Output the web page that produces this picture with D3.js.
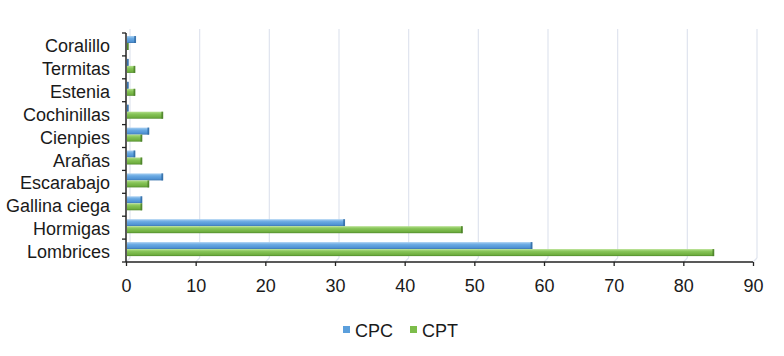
<!DOCTYPE html>
<html>
<head>
<meta charset="utf-8">
<script src="https://cdn.jsdelivr.net/npm/d3@7"></script>
<style>
  html, body { margin: 0; padding: 0; background: #fff; }
  svg { display: block; }
  text { font-family: "Liberation Sans", Arial, sans-serif; fill: #1a1a1a; }
</style>
</head>
<body>
<svg id="chart" width="784" height="356"></svg>
<script>
const categories = ["Coralillo", "Termitas", "Estenia", "Cochinillas", "Cienpies", "Arañas", "Escarabajo", "Gallina ciega", "Hormigas", "Lombrices"];
const seriesNames = ["CPC", "CPT"];
const cpcValues = [1.4, 0.3, 0.3, 0.3, 3.3, 1.3, 5.3, 2.3, 31.4, 58.3];
const cptValues = [0.3, 1.3, 1.3, 5.3, 2.3, 2.3, 3.3, 2.3, 48.3, 84.4];
const xTicks = [0, 10, 20, 30, 40, 50, 60, 70, 80, 90];

(function () {
const svg = d3.select("#chart");
const pLeft = 126, pRight = 753, pTop = 33, pBottom = 262;
const depth = 4;
const fontSize = 18;

const x = d3.scaleLinear().domain([0, 90]).range([pLeft, pRight]);
const y = d3.scaleBand().domain(categories).range([pTop, pBottom]).paddingInner(0).paddingOuter(0);

const defs = svg.append("defs");
function grad(id, stops) {
  const g = defs.append("linearGradient").attr("id", id).attr("x1", 0).attr("y1", 0).attr("x2", 0).attr("y2", 1);
  stops.forEach(s => g.append("stop").attr("offset", s[0]).attr("stop-color", s[1]));
}
grad("gBlue", [[0, "#a9d0f2"], [0.35, "#6aaae3"], [0.8, "#4f92d3"], [1, "#3b74ad"]]);
grad("gGreen", [[0, "#b4df8c"], [0.35, "#86c457"], [0.8, "#6fae3f"], [1, "#4f8a2b"]]);

// back-wall gridlines with 3D floor diagonal
const gridColor = "#dfe4ee";
xTicks.forEach(t => {
  const gxp = x(t) + depth;
  svg.append("line").attr("x1", gxp).attr("x2", gxp).attr("y1", pTop - depth).attr("y2", pBottom - depth)
    .attr("stroke", gridColor).attr("stroke-width", 1.2);
  svg.append("line").attr("x1", gxp).attr("x2", x(t)).attr("y1", pBottom - depth).attr("y2", pBottom)
    .attr("stroke", gridColor).attr("stroke-width", 1.2);
});

// bars
const series = [
  { name: "CPC", values: cpcValues, fill: "url(#gBlue)", edge: "#2f6aa3", off: 3 },
  { name: "CPT", values: cptValues, fill: "url(#gGreen)", edge: "#4a7f28", off: 10 }
];
const barH = 7;
series.forEach(s => {
  const g = svg.append("g");
  categories.forEach((c, i) => {
    const v = s.values[i];
    const y0 = y(c) + s.off;
    const x1 = x(v);
    g.append("rect").attr("x", x(0) + 1).attr("y", y0).attr("width", Math.max(0.8, x1 - x(0) - 1)).attr("height", barH)
      .attr("fill", s.fill);
    g.append("rect").attr("x", Math.max(x(0) + 1, x1 - 1.5)).attr("y", y0).attr("width", 1.8).attr("height", barH)
      .attr("fill", s.edge).attr("opacity", 0.85);
  });
});

// axes
const xAxis = d3.axisBottom(x).tickValues(xTicks).tickSize(4).tickPadding(13).tickFormat(d3.format("d"));
const gx = svg.append("g").attr("transform", `translate(0,${pBottom})`).call(xAxis);
gx.select(".domain").attr("stroke", "#222").attr("stroke-width", 1.5).attr("d", `M${pLeft},0H${pRight}`);
gx.selectAll(".tick line").attr("stroke", "#222").attr("stroke-width", 1.3);
gx.selectAll(".tick text").attr("font-size", fontSize).attr("fill", "#1a1a1a").style("font-family", "Liberation Sans, Arial, sans-serif");

const yAxis = d3.axisLeft(y).tickSize(0).tickPadding(16);
const gy = svg.append("g").attr("transform", `translate(${pLeft},0)`).call(yAxis);
gy.select(".domain").attr("stroke", "#222").attr("stroke-width", 1.5).attr("d", `M0,${pTop}V${pBottom}`);
gy.selectAll(".tick text").attr("font-size", fontSize).attr("fill", "#1a1a1a").attr("dy", "0.42em").style("font-family", "Liberation Sans, Arial, sans-serif");
const bounds = categories.map(c => y(c)).concat([pBottom]);
gy.selectAll(".bound").data(bounds).enter().append("line")
  .attr("x1", -4).attr("x2", 0).attr("y1", d => d).attr("y2", d => d)
  .attr("stroke", "#222").attr("stroke-width", 1.3);

// legend
const legend = svg.append("g");
const legendItems = [
  { name: seriesNames[0], color: "#5b9fdc", x: 343 },
  { name: seriesNames[1], color: "#7cbd4a", x: 410 }
];
legendItems.forEach(it => {
  legend.append("rect").attr("x", it.x).attr("y", 326).attr("width", 7).attr("height", 7).attr("fill", it.color);
  legend.append("text").attr("x", it.x + 12).attr("y", 337).attr("font-size", fontSize).text(it.name);
});
})();
</script>
</body>
</html>
